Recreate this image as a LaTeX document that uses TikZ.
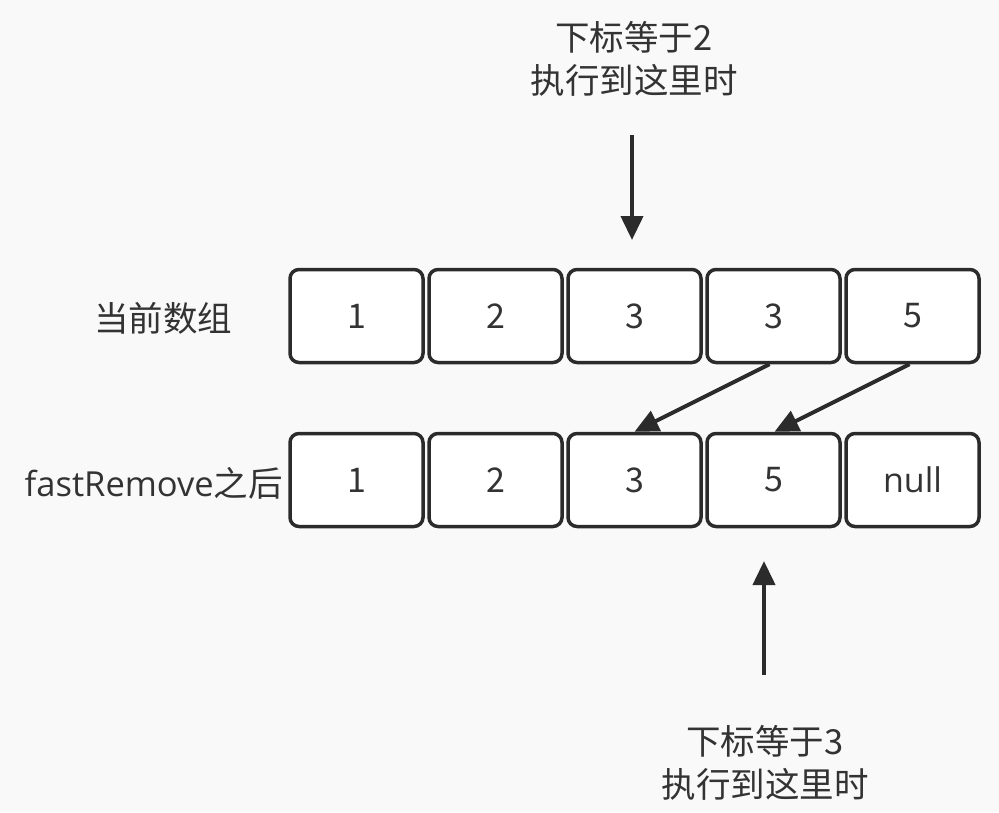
\documentclass[tikz,border=0pt]{standalone}
\usepackage{fontspec}
\setmainfont{Noto Sans CJK SC}
\newfontfamily\latinf{Open Sans}
\usetikzlibrary{arrows.meta}
\definecolor{bg}{HTML}{F9F9F9}
\definecolor{ink}{HTML}{2B2B2B}
\definecolor{txt}{HTML}{333333}
\tikzset{
  cell/.style={draw=ink, line width=3.5pt, fill=white, rounded corners=9pt,
    minimum width=133pt, minimum height=93pt, inner sep=0pt,
    font=\fontsize{34}{40}\selectfont, text=txt},
  lbl/.style={font=\fontsize{34.5}{43}\selectfont, text=txt, align=center, inner sep=0pt},
  arr/.style={draw=ink, line width=4pt, -{Triangle[length=24pt,width=22pt]}}
}
\begin{document}
\begin{tikzpicture}[x=1pt,y=-1pt]
\fill[bg] (0,0) rectangle (999,812);
\useasboundingbox (0,0) rectangle (999,812);
% top row
\node[cell] (t1) at (356.5,316) {1};
\node[cell] (t2) at (495.5,316) {2};
\node[cell] (t3) at (634.5,316) {3};
\node[cell] (t4) at (773.5,316) {3};
\node[cell] (t5) at (912.5,316) {5};
% bottom row
\node[cell] (b1) at (356.5,480) {1};
\node[cell] (b2) at (495.5,480) {2};
\node[cell] (b3) at (634.5,480) {3};
\node[cell] (b4) at (773.5,480) {5};
\node[cell] (b5) at (912.5,480) {{\latinf null}};
% labels
\node[lbl] (l1) at (163,318) {当前数组};
\node[lbl, anchor=east] (l2) at (283,483) {{\latinf fastRemove}之后};
\node[lbl] (top) at (634,59) {下标等于2\\执行到这里时};
\node[lbl] (bot) at (765,763) {下标等于3\\执行到这里时};
% arrows
\coordinate (ta) at (632,135);
\coordinate (tb) at (632,240);
\coordinate (ba) at (764,675);
\coordinate (bb) at (764,561);
\draw[arr] (ta) -- (tb);
\draw[arr] (ba) -- (bb);
\draw[arr] ([xshift=-4pt]t4.south) -- (b3.north);
\draw[arr] ([xshift=-3pt]t5.south) -- ([xshift=1pt]b4.north);
\end{tikzpicture}
\end{document}
